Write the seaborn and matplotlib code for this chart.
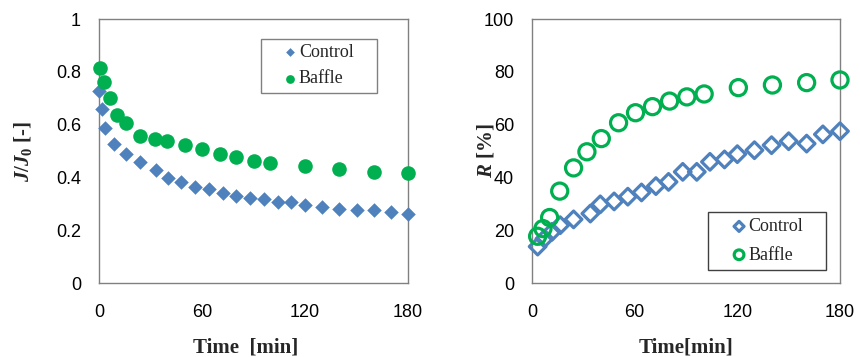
import matplotlib
matplotlib.use("Agg")
import matplotlib.pyplot as plt
import seaborn as sns
import pandas as pd

# ---- data ----
flux_control_t = [0, 1.5, 3.3, 9, 16, 23.7, 33.4, 40, 48, 56, 64, 72, 80, 88, 96, 104, 112, 120, 130, 140, 150, 160, 170, 180]
flux_control_v = [0.728, 0.660, 0.588, 0.526, 0.490, 0.458, 0.427, 0.398, 0.382, 0.362, 0.355, 0.341, 0.330, 0.321, 0.317, 0.307, 0.305, 0.295, 0.286, 0.281, 0.277, 0.276, 0.268, 0.263]
flux_baffle_t = [0.8, 2.9, 6.2, 10.5, 16, 23.9, 32.4, 39.6, 50, 60, 70.5, 79.8, 90, 99.8, 120, 140, 160, 180]
flux_baffle_v = [0.815, 0.761, 0.699, 0.638, 0.607, 0.556, 0.545, 0.539, 0.522, 0.509, 0.489, 0.478, 0.461, 0.453, 0.444, 0.431, 0.421, 0.418]

rej_control_t = [3.3, 7.3, 11.7, 16.5, 24.3, 34.1, 39.9, 48, 56, 64, 72.4, 79.8, 88.1, 96.3, 104, 112.5, 120, 130, 140, 150, 160.5, 170, 180]
rej_control_v = [13.8, 16.8, 19.4, 21.9, 24.1, 26.3, 29.8, 30.9, 32.7, 34.3, 36.7, 38.3, 42.1, 42.1, 45.9, 46.8, 48.8, 50.3, 52.2, 53.7, 52.8, 56.3, 57.5]
rej_baffle_t = [3.3, 6.4, 10.3, 16.2, 24.3, 32.1, 40.5, 50.6, 60.5, 70.4, 80.4, 90.5, 100.6, 120.6, 140.5, 160.5, 180]
rej_baffle_v = [17.7, 20.6, 24.8, 34.8, 43.6, 49.7, 54.7, 60.7, 64.5, 66.8, 68.9, 70.5, 71.6, 74.0, 75.0, 75.9, 76.9]

x_ticks = [0, 60, 120, 180]
flux_yticks = [0, 0.2, 0.4, 0.6, 0.8, 1]
rej_yticks = [0, 20, 40, 60, 80, 100]
series_names = ["Control", "Baffle"]

BLUE = "#4f81bd"
GREEN = "#00b050"
SPINE = "#808080"

sns.set_style("white")
plt.rcParams["font.family"] = ["Liberation Sans", "DejaVu Sans"]
plt.rcParams["mathtext.fontset"] = "custom"
plt.rcParams["mathtext.it"] = "Liberation Serif:italic:bold"
plt.rcParams["mathtext.rm"] = "Liberation Serif:bold"
plt.rcParams["mathtext.bf"] = "Liberation Serif:bold"

fig = plt.figure(figsize=(8.6, 3.57), dpi=100)
ax1 = fig.add_axes([99 / 860, 1 - 283 / 357, (408 - 99) / 860, (283 - 19) / 357])
ax2 = fig.add_axes([532 / 860, 1 - 283 / 357, (840 - 532) / 860, (283 - 19) / 357])

df_fc = pd.DataFrame({"t": flux_control_t, "v": flux_control_v})
df_fb = pd.DataFrame({"t": flux_baffle_t, "v": flux_baffle_v})
df_rc = pd.DataFrame({"t": rej_control_t, "v": rej_control_v})
df_rb = pd.DataFrame({"t": rej_baffle_t, "v": rej_baffle_v})

# left panel
sns.scatterplot(data=df_fc, x="t", y="v", ax=ax1, marker="D", s=55, color=BLUE,
                edgecolor=BLUE, linewidth=0, label=series_names[0], clip_on=False, zorder=3)
sns.scatterplot(data=df_fb, x="t", y="v", ax=ax1, marker="o", s=110, color=GREEN,
                edgecolor=GREEN, linewidth=0, label=series_names[1], clip_on=False, zorder=3)

# right panel (open markers)
sns.scatterplot(data=df_rc, x="t", y="v", ax=ax2, marker="D", s=72, color=BLUE,
                linewidth=2.3, label=series_names[0], clip_on=False, zorder=3)
sns.scatterplot(data=df_rb, x="t", y="v", ax=ax2, marker="o", s=135, color=GREEN,
                linewidth=2.3, label=series_names[1], clip_on=False, zorder=3)
for coll, col in zip(ax2.collections, [BLUE, GREEN]):
    coll.set_facecolor("none")
    coll.set_edgecolor(col)

serif = {"family": ["Liberation Serif", "DejaVu Serif"], "size": 13}
lab_font = {"family": ["Liberation Serif"], "weight": "bold", "size": 15}

for ax, yt, ylim in [(ax1, flux_yticks, (0, 1)), (ax2, rej_yticks, (0, 100))]:
    ax.set_xlim(0, 180)
    ax.set_ylim(*ylim)
    ax.set_xticks(x_ticks)
    ax.set_yticks(yt)
    ax.set_xticklabels([str(v) for v in x_ticks])
    ax.set_yticklabels([("%g" % v) for v in yt])
    ax.tick_params(axis="both", direction="in", length=5, width=1, color="#404040",
                   labelsize=13, pad=13, labelcolor="black")
    ax.tick_params(axis="x", pad=15)
    for sp in ax.spines.values():
        sp.set_color(SPINE)
        sp.set_linewidth(1)
    ax.grid(False)

ax1.set_xlabel("Time  [min]", fontdict=lab_font)
ax2.set_xlabel("Time[min]", fontdict=lab_font)
ax1.set_ylabel(r"$J/J_0$ [-]", fontdict=lab_font)
ax2.set_ylabel(r"$R$ [%]", fontdict=lab_font)
for ax, xc, yc in [(ax1, 0.474, -0.246), (ax2, 0.5, -0.246)]:
    ax.xaxis.set_label_coords(xc, yc)
    ax.xaxis.label.set_va("center")
ax1.yaxis.set_label_coords((23 - 99) / 309, 0.5)
ax2.yaxis.set_label_coords((486 - 532) / 308, 0.5)
for ax in (ax1, ax2):
    ax.yaxis.label.set_va("center")

W, H = 860.0, 357.0
leg1 = ax1.legend(loc="upper left", bbox_to_anchor=(261 / W, 1 - 92 / H, 116 / W, 53 / H),
                  bbox_transform=fig.transFigure, mode="expand",
                  prop=serif, frameon=True, fancybox=False, edgecolor=SPINE, framealpha=1,
                  handletextpad=-0.825, handlelength=2.65, markerscale=0.6, borderpad=0.28,
                  labelspacing=0.52, borderaxespad=0)
leg1.get_frame().set_linewidth(1)
leg2 = ax2.legend(loc="upper left", bbox_to_anchor=(708 / W, 1 - 269 / H, 118 / W, 57 / H),
                  bbox_transform=fig.transFigure, mode="expand",
                  prop=serif, frameon=True, fancybox=False, edgecolor="#404040", framealpha=1,
                  handletextpad=-0.88, handlelength=2.76, markerscale=0.6, borderpad=0.34,
                  labelspacing=0.63, borderaxespad=0)
leg2.get_frame().set_linewidth(1)

fig.savefig("out.png", dpi=100)
